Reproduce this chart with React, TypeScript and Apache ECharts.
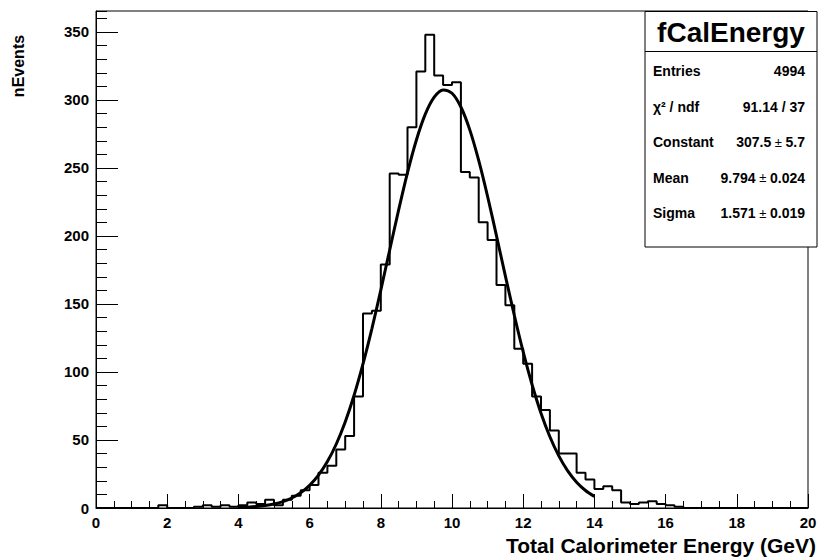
import React, { useEffect, useRef } from 'react';
import * as echarts from 'echarts';

// Histogram: 80 bins of 0.25 GeV from 0 to 20
const binWidth = 0.25;
const binCounts = [
  0, 0, 0, 0, 0, 0, 0, 2, 0, 0,
  0, 1, 2, 1, 2, 1, 2, 4, 3, 6,
  2, 6, 9, 13, 17, 26, 31, 43, 53, 82,
  143, 145, 179, 246, 245, 280, 321, 348, 318, 311,
  313, 247, 243, 210, 197, 164, 149, 117, 106, 82,
  72, 57, 40, 40, 26, 21, 14, 16, 13, 4,
  3, 4, 5, 3, 2, 1, 0, 0, 0, 0,
  0, 0, 0, 0, 0, 0, 0, 0, 0, 0,
];

// Gaussian fit curve, read every 0.25 GeV from 4 to 14
const fitStart = 4;
const fitStep = 0.25;
const fitValues = [
  0.34, 0.61, 1.05, 1.78, 2.92, 4.69, 7.34, 11.19, 16.65, 24.14,
  34.13, 47.05, 63.25, 82.87, 105.9, 131.9, 160.2, 189.7, 219.0, 246.6,
  270.6, 289.6, 302.1, 307.4, 304.9, 294.8, 278.0, 255.5, 229.0, 200.1,
  170.5, 141.7, 114.7, 90.6, 69.7, 52.4, 38.3, 27.3, 19.0, 12.9, 8.54,
];

const histTitle = 'fCalEnergy';
const statsLabels = ['Entries', 'χ² / ndf', 'Constant', 'Mean', 'Sigma'];
const statsValues = ['4994', '91.14 / 37', '307.5 ± 5.7', '9.794 ± 0.024', '1.571 ± 0.019'];

const xTitle = 'Total Calorimeter Energy (GeV)';
const yTitle = 'nEvents';
const xRange = [0, 20];
const yRange = [0, 365.4];

const FONT = "'Liberation Sans', Arial, Helvetica, sans-serif";

function richValue(v: string) {
  if (v.indexOf('±') < 0) return `{b|${v}}`;
  const [a, c] = v.split('±');
  return `{b|${a.trim()}}{pm| ± }{b|${c.trim()}}`;
}

export default function App() {
  const ref = useRef<HTMLDivElement>(null);
  useEffect(() => {
    if (!ref.current) return;
    const chart = echarts.init(ref.current, undefined, { renderer: 'svg' });

    const histData: number[][] = binCounts.map((v, i) => [i * binWidth, v]);
    histData.push([binCounts.length * binWidth, binCounts[binCounts.length - 1]]);
    const fitData = fitValues.map((v, i) => [fitStart + i * fitStep, v]);

    const rowY0 = 71;
    const rowStep = 35.5;
    const statsGraphics: any[] = [];
    statsLabels.forEach((lab, i) => {
      statsGraphics.push({
        type: 'text',
        x: 653,
        y: rowY0 + i * rowStep,
        z: 102,
        style: {
          text: lab,
          font: `bold 14px ${FONT}`,
          fill: '#000',
          align: 'left',
          verticalAlign: 'middle',
        },
      });
      statsGraphics.push({
        type: 'text',
        x: 805,
        y: rowY0 + i * rowStep,
        z: 102,
        style: {
          text: richValue(statsValues[i]),
          align: 'right',
          verticalAlign: 'middle',
          fill: '#000',
          rich: {
            b: { fontFamily: FONT, fontWeight: 'bold', fontSize: 14, fill: '#000' },
            pm: { fontFamily: FONT, fontWeight: 'normal', fontSize: 13, fill: '#000' },
          },
        },
      });
    });

    const option: any = {
      animation: false,
      backgroundColor: '#fff',
      grid: {
        left: 96,
        right: 14,
        top: 11,
        bottom: 50,
        show: true,
        borderColor: '#000',
        borderWidth: 1,
        backgroundColor: 'transparent',
        containLabel: false,
      },
      xAxis: {
        type: 'value',
        min: xRange[0],
        max: xRange[1],
        interval: 2,
        axisLine: { show: true, lineStyle: { color: '#000', width: 1 } },
        axisTick: { show: true, inside: true, length: 14, lineStyle: { color: '#000', width: 1 } },
        minorTick: { show: true, splitNumber: 4, length: 7, lineStyle: { color: '#000', width: 1 } },
        splitLine: { show: false },
        axisLabel: {
          margin: 7,
          fontFamily: FONT,
          fontWeight: 'bold',
          fontSize: 15,
          color: '#000',
        },
      },
      yAxis: [
        {
          type: 'value',
          position: 'left',
          offset: 0,
          min: yRange[0],
          max: yRange[1],
          interval: 50,
          axisLine: { show: true, lineStyle: { color: '#000', width: 1 } },
          axisTick: { show: true, inside: true, length: 22, lineStyle: { color: '#000', width: 1 } },
          splitLine: { show: false },
          axisLabel: {
            margin: 7,
            showMaxLabel: false,
            fontFamily: FONT,
            fontWeight: 'bold',
            fontSize: 15,
            color: '#000',
          },
        },
        {
          type: 'value',
          position: 'left',
          offset: 0,
          min: yRange[0],
          max: yRange[1],
          interval: 10,
          axisLine: { show: false },
          axisTick: { show: true, inside: true, length: 11, lineStyle: { color: '#000', width: 1 } },
          splitLine: { show: false },
          axisLabel: { show: false },
        },
      ],
      series: [
        {
          type: 'line',
          name: 'hist',
          yAxisIndex: 0,
          data: histData,
          step: 'end',
          showSymbol: false,
          symbol: 'none',
          clip: false,
          lineStyle: { color: '#000', width: 2 },
          z: 3,
        },
        {
          type: 'line',
          name: 'fit',
          yAxisIndex: 0,
          data: fitData,
          smooth: 0.3,
          showSymbol: false,
          symbol: 'none',
          lineStyle: { color: '#000', width: 3 },
          z: 4,
        },
      ],
      graphic: [
        {
          type: 'rect',
          z: 100,
          shape: { x: 645, y: 11.5, width: 172, height: 235.5 },
          style: { fill: '#fff', stroke: '#000', lineWidth: 1 },
        },
        {
          type: 'line',
          z: 101,
          shape: { x1: 645, y1: 51.5, x2: 817, y2: 51.5 },
          style: { stroke: '#000', lineWidth: 1 },
        },
        {
          type: 'text',
          x: 731,
          y: 32,
          z: 102,
          style: {
            text: histTitle,
            font: `bold 28px ${FONT}`,
            fill: '#000',
            align: 'center',
            verticalAlign: 'middle',
          },
        },
        ...statsGraphics,
        {
          type: 'text',
          x: 816,
          y: 545,
          z: 102,
          style: {
            text: xTitle,
            font: `bold 21px ${FONT}`,
            fill: '#000',
            align: 'right',
            verticalAlign: 'middle',
          },
        },
        {
          type: 'text',
          x: 18,
          y: 66,
          rotation: Math.PI / 2,
          z: 102,
          style: {
            text: yTitle,
            font: `bold 16px ${FONT}`,
            fill: '#000',
            align: 'center',
            verticalAlign: 'middle',
          },
        },
      ],
    };
    chart.setOption(option);
    return () => chart.dispose();
  }, []);

  return (
    <div
      ref={ref}
      style={{ position: 'fixed', left: 0, top: 0, width: 822, height: 558, background: '#fff' }}
    />
  );
}
